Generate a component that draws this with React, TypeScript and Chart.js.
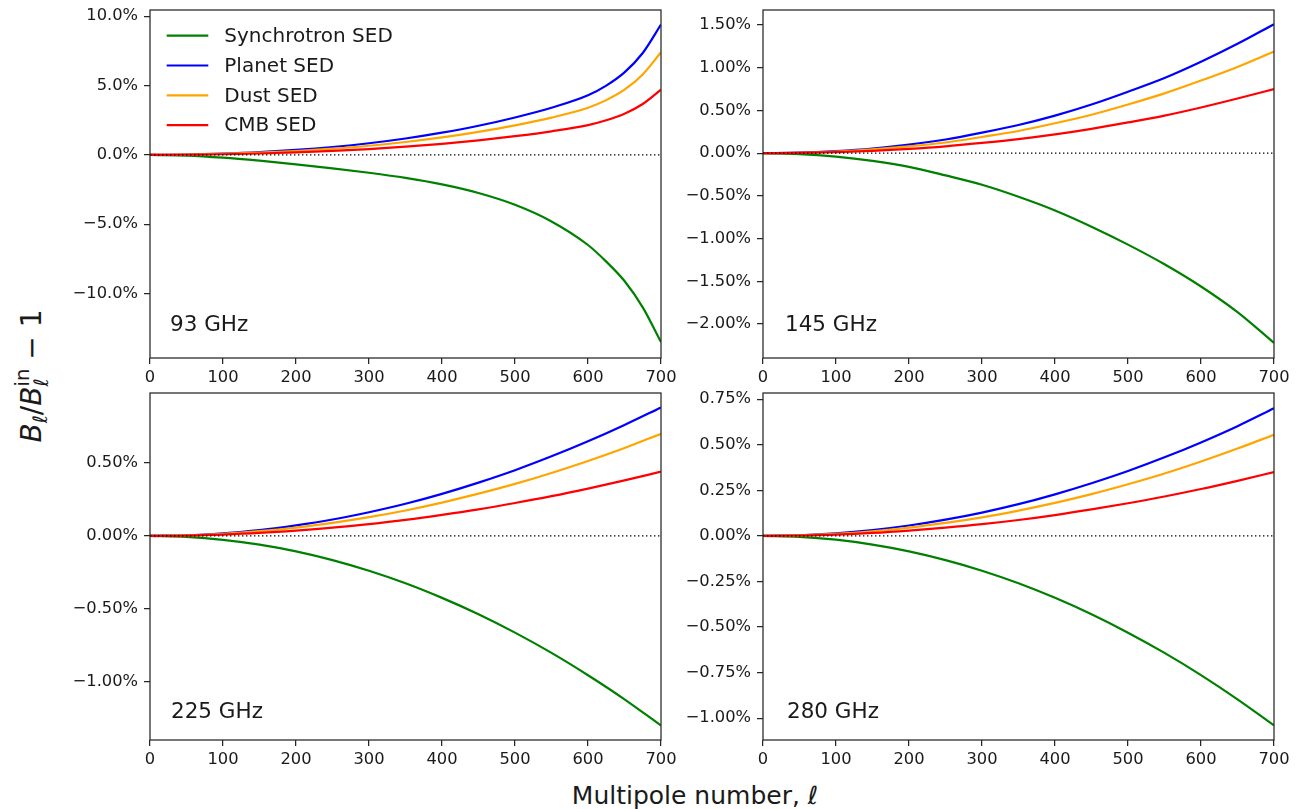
import React, { useEffect, useRef } from "react";
import { Chart, registerables } from "chart.js";
Chart.register(...registerables);

// ---------- data ----------
const ELL = [0, 50, 100, 150, 200, 250, 300, 350, 400, 450, 500, 550, 600, 650, 700];
const ELL_93 = [0, 50, 100, 150, 200, 250, 300, 350, 400, 450, 500, 550, 600, 625, 650, 675, 700];

const SYNC_93 = [0, -0.05, -0.2, -0.42, -0.68, -0.97, -1.29, -1.66, -2.13, -2.75, -3.6, -4.8, -6.5, -7.7, -9.1, -11.0, -13.5];
const PLANET_93 = [0, 0.02, 0.09, 0.2, 0.36, 0.57, 0.84, 1.18, 1.6, 2.1, 2.7, 3.4, 4.3, 5.0, 5.95, 7.35, 9.4];
const DUST_93 = [0, 0.016, 0.07, 0.16, 0.28, 0.45, 0.66, 0.93, 1.26, 1.66, 2.13, 2.69, 3.4, 3.95, 4.7, 5.8, 7.4];
const CMB_93 = [0, 0.01, 0.045, 0.1, 0.18, 0.285, 0.42, 0.59, 0.8, 1.05, 1.35, 1.7, 2.15, 2.5, 2.97, 3.67, 4.7];

const SYNC_145 = [0, -0.01, -0.04, -0.09, -0.16, -0.26, -0.37, -0.51, -0.67, -0.86, -1.07, -1.3, -1.56, -1.86, -2.22];
const PLANET_145 = [0, 0.006, 0.025, 0.055, 0.1, 0.16, 0.24, 0.33, 0.44, 0.57, 0.72, 0.88, 1.07, 1.28, 1.51];
const DUST_145 = [0, 0.005, 0.02, 0.045, 0.08, 0.125, 0.19, 0.26, 0.35, 0.45, 0.57, 0.7, 0.85, 1.01, 1.19];
const CMB_145 = [0, 0.003, 0.012, 0.028, 0.05, 0.08, 0.12, 0.165, 0.22, 0.285, 0.36, 0.44, 0.535, 0.64, 0.75];

const SYNC_225 = [0, -0.007, -0.027, -0.06, -0.106, -0.166, -0.239, -0.325, -0.425, -0.537, -0.663, -0.802, -0.955, -1.12, -1.3];
const PLANET_225 = [0, 0.004, 0.018, 0.04, 0.072, 0.112, 0.162, 0.22, 0.288, 0.365, 0.45, 0.545, 0.648, 0.76, 0.88];
const DUST_225 = [0, 0.003, 0.014, 0.032, 0.057, 0.089, 0.128, 0.174, 0.228, 0.289, 0.356, 0.431, 0.513, 0.602, 0.7];
const CMB_225 = [0, 0.002, 0.009, 0.02, 0.036, 0.056, 0.081, 0.11, 0.144, 0.182, 0.225, 0.272, 0.324, 0.38, 0.44];

const SYNC_280 = [0, -0.005, -0.021, -0.048, -0.085, -0.133, -0.191, -0.26, -0.34, -0.43, -0.531, -0.642, -0.764, -0.897, -1.04];
const PLANET_280 = [0, 0.0036, 0.014, 0.032, 0.057, 0.089, 0.128, 0.174, 0.228, 0.289, 0.356, 0.431, 0.513, 0.602, 0.7];
const DUST_280 = [0, 0.003, 0.011, 0.025, 0.045, 0.071, 0.102, 0.139, 0.181, 0.229, 0.283, 0.342, 0.408, 0.479, 0.555];
const CMB_280 = [0, 0.002, 0.007, 0.016, 0.029, 0.045, 0.064, 0.087, 0.114, 0.145, 0.179, 0.216, 0.257, 0.302, 0.35];

const SERIES_LABELS = ["Synchrotron SED", "Planet SED", "Dust SED", "CMB SED"];
const SERIES_COLORS = ["#008000", "#0000ff", "#ffa500", "#ff0000"];
const SERIES_ORDER = [4, 3, 2, 1];

const X_TICKS = [0, 100, 200, 300, 400, 500, 600, 700];
const Y_TICKS_93 = [-10, -5, 0, 5, 10];
const Y_TICKS_145 = [-2, -1.5, -1, -0.5, 0, 0.5, 1, 1.5];
const Y_TICKS_225 = [-1, -0.5, 0, 0.5];
const Y_TICKS_280 = [-1, -0.75, -0.5, -0.25, 0, 0.25, 0.5, 0.75];

const PANEL_LABELS = ["93 GHz", "145 GHz", "225 GHz", "280 GHz"];

// ---------- layout ----------
const FONT = '"DejaVu Sans", "Liberation Sans", sans-serif';
const TEXT = "#1a1a1a";
const SPINE = "#262626";
const Y_AXIS_W = 90;
const X_AXIS_H = 30;
const PAD_TOP = 10;
const PAD_RIGHT = 25;

const PANELS = [
  { label: PANEL_LABELS[0], ell: ELL_93, series: [SYNC_93, PLANET_93, DUST_93, CMB_93], yTicks: Y_TICKS_93, dec: 1, yMin: -14.65, yMax: 10.45, area: { l: 150, t: 10, r: 661, b: 358 }, legend: true, dx: 20, dy: 27 },
  { label: PANEL_LABELS[1], ell: ELL, series: [SYNC_145, PLANET_145, DUST_145, CMB_145], yTicks: Y_TICKS_145, dec: 2, yMin: -2.397, yMax: 1.676, area: { l: 763, t: 10, r: 1274, b: 358 }, legend: false, dx: 22, dy: 27 },
  { label: PANEL_LABELS[2], ell: ELL, series: [SYNC_225, PLANET_225, DUST_225, CMB_225], yTicks: Y_TICKS_225, dec: 2, yMin: -1.399, yMax: 0.979, area: { l: 150, t: 393, r: 661, b: 740 }, legend: false, dx: 21, dy: 22.5 },
  { label: PANEL_LABELS[3], ell: ELL, series: [SYNC_280, PLANET_280, DUST_280, CMB_280], yTicks: Y_TICKS_280, dec: 2, yMin: -1.12, yMax: 0.784, area: { l: 763, t: 393, r: 1274, b: 740 }, legend: false, dx: 24, dy: 22.5 },
];

const fmtPct = (v: number, dec: number) => {
  const s = Math.abs(v).toFixed(dec) + "%";
  return v < -1e-9 ? "\u2212" + s : s;
};

const decorPlugin = {
  id: "decor",
  afterDraw(chart: any, _args: any, opts: any) {
    const { ctx, chartArea: a } = chart;
    ctx.save();
    ctx.strokeStyle = SPINE;
    ctx.lineWidth = 1.25;
    ctx.strokeRect(a.left, a.top, a.right - a.left, a.bottom - a.top);
    ctx.fillStyle = TEXT;
    ctx.font = `21.5px ${FONT}`;
    ctx.textAlign = "left";
    ctx.textBaseline = "alphabetic";
    ctx.fillText(opts.label, a.left + opts.dx, a.bottom - opts.dy);
    if (opts.legend) {
      ctx.font = `20px ${FONT}`;
      ctx.textBaseline = "middle";
      for (let i = 0; i < SERIES_LABELS.length; i++) {
        const y = a.top + 25.7 + i * 29.8;
        ctx.strokeStyle = SERIES_COLORS[i];
        ctx.lineWidth = 2.2;
        ctx.beginPath();
        ctx.moveTo(a.left + 16.7, y);
        ctx.lineTo(a.left + 58.3, y);
        ctx.stroke();
        ctx.fillStyle = TEXT;
        ctx.fillText(SERIES_LABELS[i], a.left + 74.3, y + 1);
      }
    }
    ctx.restore();
  },
};

function Panel({ cfg }: { cfg: any }) {
  const ref = useRef<HTMLCanvasElement | null>(null);
  const width = cfg.area.r - cfg.area.l + Y_AXIS_W + PAD_RIGHT;
  const height = cfg.area.b - cfg.area.t + PAD_TOP + X_AXIS_H;
  useEffect(() => {
    if (!ref.current) return;
    const datasets: any[] = cfg.series.map((vals: number[], i: number) => ({
      label: SERIES_LABELS[i],
      data: vals.map((v, j) => ({ x: cfg.ell[j], y: v })),
      borderColor: SERIES_COLORS[i],
      backgroundColor: SERIES_COLORS[i],
      borderWidth: 2.2,
      pointRadius: 0,
      cubicInterpolationMode: "monotone",
      order: SERIES_ORDER[i],
    }));
    datasets.push({
      label: "zero",
      data: [{ x: X_TICKS[0], y: 0 }, { x: X_TICKS[X_TICKS.length - 1], y: 0 }],
      borderColor: "#000000",
      borderWidth: 1.3,
      borderDash: [1.4, 2.6],
      pointRadius: 0,
      order: 0,
    });
    const tickFont = { family: FONT, size: 16.3 };
    const grid = { drawOnChartArea: false, drawTicks: true, tickLength: 6, color: SPINE, lineWidth: 1.25 };
    const chart = new Chart(ref.current, {
      type: "line",
      data: { datasets },
      plugins: [decorPlugin],
      options: {
        animation: false,
        responsive: false,
        devicePixelRatio: 1,
        layout: { padding: { top: PAD_TOP, right: PAD_RIGHT, left: 0, bottom: 0 } },
        plugins: {
          legend: { display: false },
          tooltip: { enabled: false },
          decor: { label: cfg.label, dx: cfg.dx, dy: cfg.dy, legend: cfg.legend },
        } as any,
        scales: {
          x: {
            type: "linear",
            min: X_TICKS[0],
            max: X_TICKS[X_TICKS.length - 1],
            grid,
            border: { display: false },
            ticks: { font: tickFont, color: TEXT, padding: 4, maxRotation: 0, autoSkip: false, callback: (v: any) => String(v) },
            afterBuildTicks: (s: any) => { s.ticks = X_TICKS.map((v) => ({ value: v })); },
            afterFit: (s: any) => { s.height = X_AXIS_H; s.paddingLeft = 0; s.paddingRight = 0; s.paddingTop = 0; s.paddingBottom = 0; },
          },
          y: {
            type: "linear",
            min: cfg.yMin,
            max: cfg.yMax,
            grid,
            border: { display: false },
            ticks: { font: tickFont, color: TEXT, padding: 6, autoSkip: false, callback: (v: any) => fmtPct(Number(v), cfg.dec) },
            afterBuildTicks: (s: any) => { s.ticks = cfg.yTicks.map((v: number) => ({ value: v })); },
            afterFit: (s: any) => { s.width = Y_AXIS_W; s.paddingLeft = 0; s.paddingRight = 0; s.paddingTop = 0; s.paddingBottom = 0; },
          },
        },
      } as any,
    });
    return () => chart.destroy();
  }, []);
  return (
    <canvas
      ref={ref}
      width={width}
      height={height}
      style={{ position: "absolute", left: cfg.area.l - Y_AXIS_W, top: cfg.area.t - PAD_TOP, width, height }}
    />
  );
}

export default function App() {
  return (
    <div style={{ position: "fixed", left: 0, top: 0, width: 1309, height: 809, background: "#ffffff", overflow: "hidden", fontFamily: FONT, color: TEXT }}>
      {PANELS.map((p, i) => (
        <Panel key={i} cfg={p} />
      ))}
      <div
        style={{
          position: "absolute",
          left: 33,
          top: 376,
          transform: "translate(-50%, -50%) rotate(-90deg)",
          whiteSpace: "nowrap",
          fontSize: 28,
          lineHeight: 1,
        }}
      >
        <i>B</i>
        <span style={{ display: "inline-block", fontSize: "0.7em", verticalAlign: "-0.3em", fontStyle: "italic" }}>ℓ</span>
        /<i>B</i>
        <span style={{ display: "inline-block", fontSize: "0.7em", lineHeight: 0.95, verticalAlign: "-0.35em", textAlign: "left" }}>
          <span style={{ display: "block" }}>in</span>
          <span style={{ display: "block", fontStyle: "italic" }}>ℓ</span>
        </span>
        <span> − 1</span>
      </div>
      <div
        style={{
          position: "absolute",
          left: 695,
          top: 795,
          transform: "translate(-50%, -50%)",
          whiteSpace: "nowrap",
          fontSize: 25,
          lineHeight: 1,
        }}
      >
        Multipole number, <i>ℓ</i>
      </div>
    </div>
  );
}
